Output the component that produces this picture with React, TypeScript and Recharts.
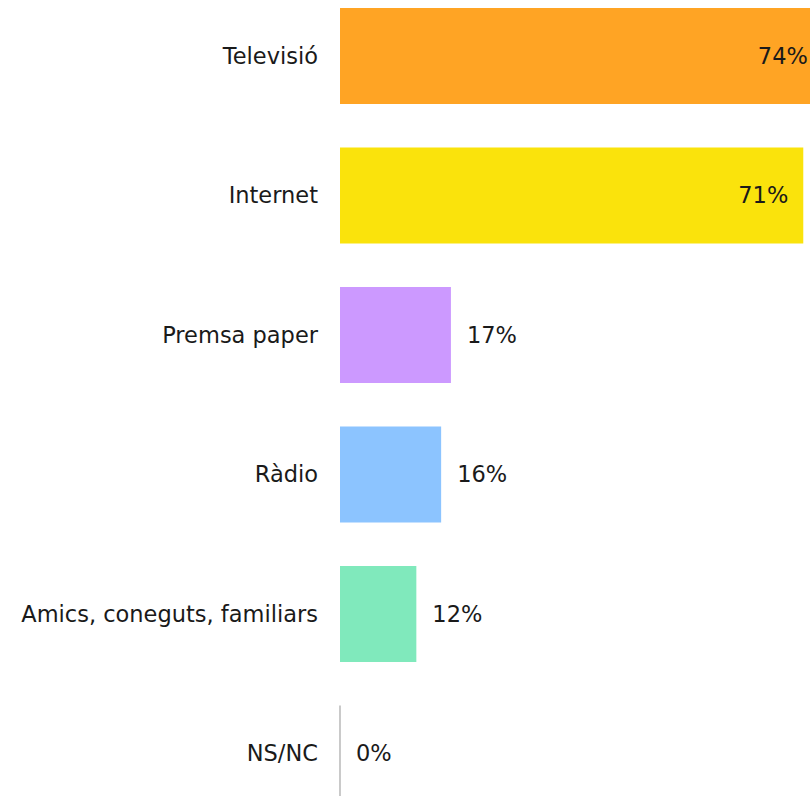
import { BarChart, Bar, XAxis, YAxis, Cell, LabelList } from 'recharts';

const categories = ['Televisió', 'Internet', 'Premsa paper', 'Ràdio', 'Amics, coneguts, familiars', 'NS/NC'];
const shares = [74, 71, 17, 15.5, 11.7, 0];
const COLORS = ['#FFA424', '#FAE30C', '#CC99FF', '#8CC4FF', '#80E9BC', '#A6A6A6'];

const data = categories.map((name, i) => ({ name, value: shares[i] }));

const FONT = '"Century Gothic", "URW Gothic", "DejaVu Sans", sans-serif';

// zero-width bars still get a thin grey rule, like the original
const BarShape = (props: any) => {
  const { x, y, width, height, fill } = props;
  if (!width) {
    return <line x1={x} x2={x} y1={y} y2={y + height} stroke="#A6A6A6" strokeWidth={1.2} />;
  }
  return <rect x={x} y={y} width={width} height={height} fill={fill} />;
};

const ValueLabel = (props: any) => {
  const { x, y, width, height, value } = props;
  const inside = width > 300;
  const tx = inside ? x + width - 15 : x + width + 16;
  return (
    <text
      x={tx}
      y={y + height / 2}
      dy="0.355em"
      textAnchor={inside ? 'end' : 'start'}
      fill="#1a1a1a"
      fontSize={22.5}
      fontFamily={FONT}
    >
      {Math.round(value)}%
    </text>
  );
};

export default function App() {
  return (
    <div style={{ position: 'absolute', left: 0, top: 0, width: 810, height: 796, overflow: 'hidden', background: '#fff' }}>
      <div style={{ position: 'absolute', left: 0, top: -14 }}>
        <BarChart
          width={862}
          height={837}
          data={data}
          layout="vertical"
          margin={{ top: 0, right: 0, bottom: 0, left: 0 }}
        >
          <XAxis type="number" domain={[0, 80]} hide />
          <YAxis
            type="category"
            dataKey="name"
            width={340}
            axisLine={false}
            tickLine={false}
            tickSize={0}
            tickMargin={22}
            tick={{ fill: '#1a1a1a', fontSize: 22.5, fontFamily: FONT }}
          />
          <Bar dataKey="value" barSize={96} shape={<BarShape />} isAnimationActive={false}>
            {data.map((_, i) => (
              <Cell key={`cell-${i}`} fill={COLORS[i]} />
            ))}
            <LabelList dataKey="value" content={<ValueLabel />} />
          </Bar>
        </BarChart>
      </div>
    </div>
  );
}
